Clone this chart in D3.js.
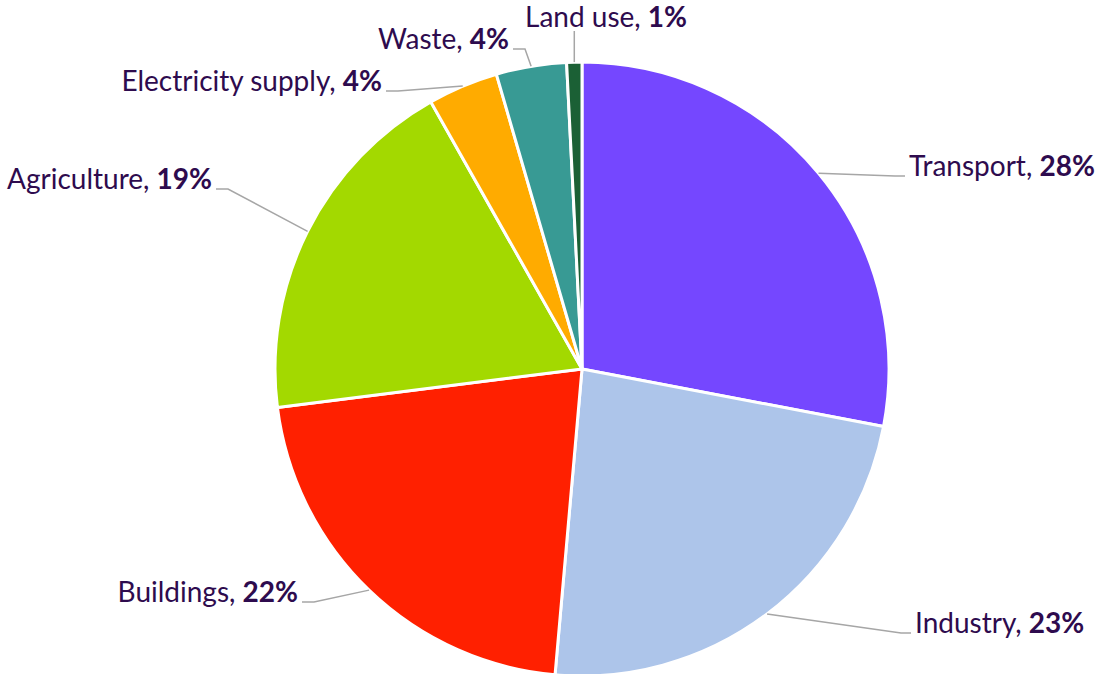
<!DOCTYPE html>
<html>
<head>
<meta charset="utf-8">
<script src="https://cdn.jsdelivr.net/npm/d3@7"></script>
<style>
  body { margin: 0; background: #fff; }
  text { font-family: Lato, "Noto Sans", sans-serif; }
</style>
</head>
<body>
<svg id="chart"></svg>
<script>
var width = 1095;
var height = 674;

// shares of emissions by sector (%)
var sectors = ["Transport", "Industry", "Buildings", "Agriculture", "Electricity supply", "Waste", "Land use"];
var shares = [28.0, 23.4, 21.6, 18.8, 3.7, 3.7, 0.8];
var colors = ["#7547ff", "#adc5ea", "#ff2000", "#a3d900", "#ffab00", "#389a94", "#1b6035"];

// where each label sits (x, y of the text anchor) and which side it reads from
var labelAt = [
    [909, 176, "start"],
    [915, 633, "start"],
    [298, 602, "end"],
    [212, 189, "end"],
    [382, 91, "end"],
    [509, 49, "end"],
    [525, 27, "start"]
];

var cx = 582, cy = 369, radius = 307;

var svg = d3.select("#chart")
    .attr("width", width)
    .attr("height", height);

var pie = d3.pie().sort(null).value(function(d){ return d; });
var arcs = pie(shares);

var arc = d3.arc().innerRadius(0).outerRadius(radius);

var g = svg.append("g").attr("transform", "translate(" + cx + "," + cy + ")");

g.selectAll("path")
    .data(arcs)
    .enter()
    .append("path")
    .attr("d", arc)
    .attr("fill", function(d, i){ return colors[i]; })
    .attr("stroke", "#fff")
    .attr("stroke-width", 3)
    .attr("stroke-linejoin", "round");

// leader lines: from the arc edge at mid angle to a short elbow next to the label
var leaders = arcs.map(function(d, i) {
    var a = (d.startAngle + d.endAngle) / 2;
    var p0 = [cx + radius * Math.sin(a), cy - radius * Math.cos(a)];
    var lp = labelAt[i];
    var end, elbow;
    if (i === 6) {
        end = [p0[0], lp[1] + 4];
        elbow = end;
    } else if (lp[2] === "start") {
        end = [lp[0] - 4, lp[1]];
        elbow = [lp[0] - 14, lp[1]];
    } else {
        end = [lp[0] + 4, lp[1]];
        elbow = [lp[0] + 16, lp[1]];
    }
    return [p0, elbow, end];
});

svg.append("g")
    .selectAll("path")
    .data(leaders)
    .enter()
    .append("path")
    .attr("d", d3.line())
    .attr("fill", "none")
    .attr("stroke", "#a6a6a6")
    .attr("stroke-width", 1.5);

var labels = svg.append("g")
    .selectAll("text")
    .data(arcs)
    .enter()
    .append("text")
    .attr("x", function(d, i){ return labelAt[i][0]; })
    .attr("y", function(d, i){ return labelAt[i][1]; })
    .attr("text-anchor", function(d, i){ return labelAt[i][2]; })
    .attr("font-size", 28)
    .attr("fill", "#2e0b4e");

labels.append("tspan")
    .text(function(d, i){ return sectors[i] + ", "; });
labels.append("tspan")
    .attr("font-weight", "bold")
    .text(function(d){ return Math.round(d.value) + "%"; });
</script>
</body>
</html>
